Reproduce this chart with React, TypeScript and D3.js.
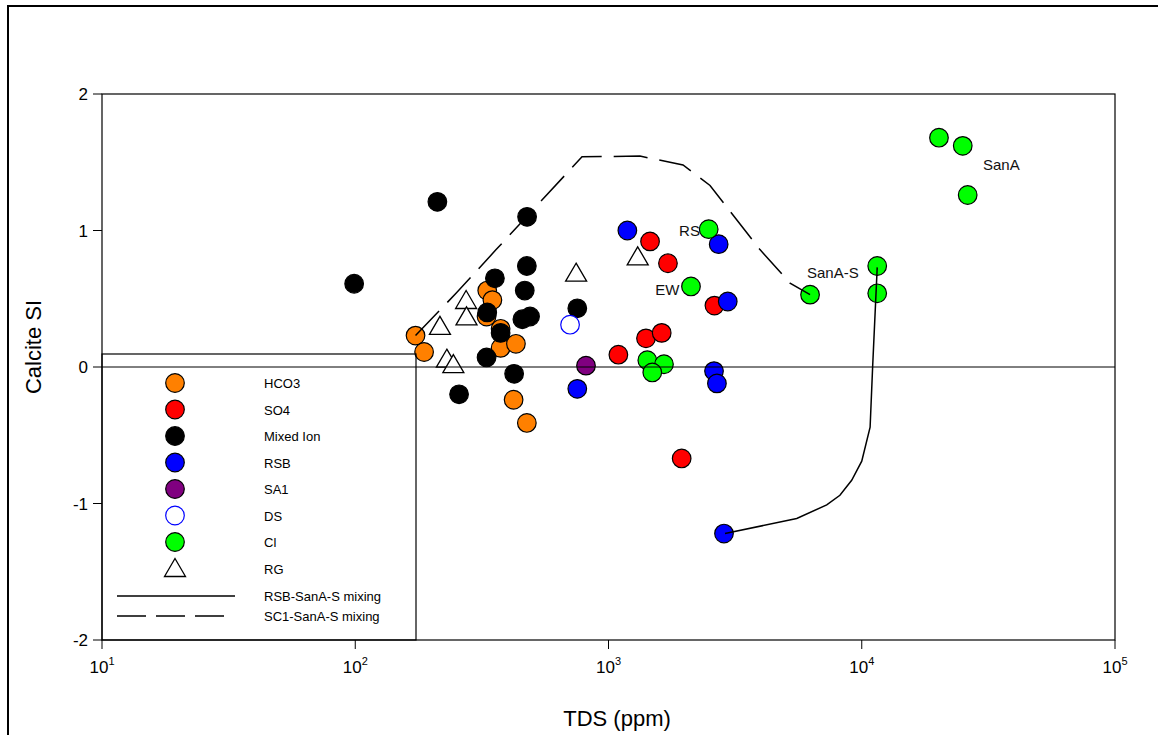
import React from "react";
import * as d3 from "d3";

// [TDS ppm, calcite SI]
const hco3 = [
  [173, 0.23], [187, 0.11], [332, 0.56], [348, 0.49], [330, 0.37], [375, 0.28],
  [375, 0.14], [431, 0.17], [422, -0.24], [476, -0.41],
];
const so4 = [
  [1459, 0.92], [1717, 0.76], [2620, 0.45], [1406, 0.21], [1622, 0.25],
  [1094, 0.09], [1945, -0.67],
];
const mixedIon = [
  [211, 1.21], [99, 0.61], [477, 1.1], [476, 0.74], [356, 0.65], [467, 0.56],
  [332, 0.4], [457, 0.35], [490, 0.37], [375, 0.25], [330, 0.07], [424, -0.05],
  [257, -0.2], [753, 0.43],
];
const rsb = [
  [1187, 1.0], [2723, 0.9], [2957, 0.48], [2610, -0.03], [2680, -0.12],
  [753, -0.16], [2858, -1.22],
];
const sa1 = [[815, 0.01]];
const ds = [[705, 0.31]];
const cl = [
  [2487, 1.01], [2117, 0.59], [1423, 0.05], [1656, 0.02], [1489, -0.04],
  [6250, 0.53], [11510, 0.74], [11510, 0.54], [20180, 1.68], [25050, 1.62], [26200, 1.26],
];
const rg = [
  [216, 0.29], [274, 0.48], [275, 0.36], [230, 0.05], [244, 0.01], [745, 0.68], [1304, 0.8],
];

// mixing curves
const rsbSanaS = [
  [2884, -1.22], [5537, -1.11], [7273, -1.01], [8200, -0.94], [9125, -0.83],
  [10000, -0.69], [10790, -0.44], [11040, 0.0], [11510, 0.73],
];
const sc1SanaS = [
  [173, 0.23], [250, 0.54], [360, 0.86], [520, 1.18], [786, 1.54], [1331, 1.545],
  [1969, 1.48], [2517, 1.33], [3963, 0.86], [5210, 0.615], [6250, 0.53],
];

const xTicks = [10, 100, 1000, 10000, 100000];
const yTicks = [-2, -1, 0, 1, 2];

const pointLabels = [
  { text: "SanA", x: 30100, y: 1.44 },
  { text: "SanA-S", x: 6080, y: 0.65 },
  { text: "RS", x: 1900, y: 0.96 },
  { text: "EW", x: 1528, y: 0.527 },
];

const series = [
  { name: "HCO3", data: hco3, fill: "#ff8000", stroke: "#000" },
  { name: "SO4", data: so4, fill: "#ff0000", stroke: "#000" },
  { name: "Mixed Ion", data: mixedIon, fill: "#000000", stroke: "#000" },
  { name: "RSB", data: rsb, fill: "#0000ff", stroke: "#000" },
  { name: "SA1", data: sa1, fill: "#800080", stroke: "#000" },
  { name: "DS", data: ds, fill: "#ffffff", stroke: "#0000ff" },
  { name: "Cl", data: cl, fill: "#00ff00", stroke: "#000" },
];

const font = "'Liberation Sans', Arial, sans-serif";

const tri = "M0,-11L10.5,7L-10.5,7Z";

export default function App() {
  const x = d3.scaleLog().domain([10, 100000]).range([102, 1115]);
  const y = d3.scaleLinear().domain([-2, 2]).range([640, 94]);
  const line = d3.line<number[]>().x(d => x(d[0])).y(d => y(d[1]));

  const legX = 102, legY = 354, legW = 314;
  const rowY = (i: number) => 383 + i * 26.5;

  return (
    <svg width={1158} height={735} style={{ position: "absolute", left: 0, top: 0 }} fontFamily={font}>
      <rect x={0} y={0} width={1158} height={735} fill="#fff" />
      <rect x={8} y={6} width={1160} height={740} fill="none" stroke="#000" strokeWidth={2} />

      {/* labels under the markers */}
      {pointLabels.map(l => (
        <text key={l.text} x={x(l.x)} y={y(l.y)} fontSize={15} fill="#111">{l.text}</text>
      ))}

      {/* markers */}
      {series.map(s => (
        <g key={s.name}>
          {s.data.map((d, i) => (
            <circle key={i} cx={x(d[0])} cy={y(d[1])} r={9.3} fill={s.fill} stroke={s.stroke} strokeWidth={1.2} />
          ))}
        </g>
      ))}
      {rg.map((d, i) => (
        <path key={i} d={tri} transform={`translate(${x(d[0])},${y(d[1])})`} fill="#fff" stroke="#000" strokeWidth={1.3} />
      ))}

      {/* mixing lines */}
      <path d={line(rsbSanaS) || ""} fill="none" stroke="#000" strokeWidth={1.5} />
      <path d={line(sc1SanaS) || ""} fill="none" stroke="#000" strokeWidth={1.5} strokeDasharray="34 12" />

      {/* zero line */}
      <line x1={x(10)} x2={x(100000)} y1={y(0)} y2={y(0)} stroke="#000" strokeWidth={1} />

      {/* frame */}
      <rect x={102} y={94} width={1115 - 102} height={640 - 94} fill="none" stroke="#000" strokeWidth={1.2} />

      {/* x axis */}
      {xTicks.map(t => (
        <g key={t}>
          <line x1={x(t)} x2={x(t)} y1={640} y2={649} stroke="#000" />
          <text x={x(t)} y={673} fontSize={17} textAnchor="middle">
            <tspan>10</tspan>
            <tspan dy={-8} fontSize={11}>{Math.round(Math.log10(t))}</tspan>
          </text>
        </g>
      ))}
      <text x={617} y={726} fontSize={22} textAnchor="middle">TDS (ppm)</text>

      {/* y axis */}
      {yTicks.map(t => (
        <g key={t}>
          <line x1={93} x2={102} y1={y(t)} y2={y(t)} stroke="#000" />
          <text x={88} y={y(t) + 6} fontSize={17} textAnchor="end">{t}</text>
        </g>
      ))}
      <text transform="translate(41,347) rotate(-90)" fontSize={22} textAnchor="middle">Calcite SI</text>

      {/* legend */}
      <rect x={legX} y={legY} width={legW} height={640 - legY} fill="none" stroke="#000" strokeWidth={1.2} />
      {series.map((s, i) => (
        <g key={s.name}>
          <circle cx={175} cy={rowY(i)} r={9.3} fill={s.fill} stroke={s.stroke} strokeWidth={1.2} />
          <text x={264} y={rowY(i) + 5} fontSize={13}>{s.name}</text>
        </g>
      ))}
      <path d={tri} transform={`translate(175,${rowY(7) + 1})`} fill="#fff" stroke="#000" strokeWidth={1.3} />
      <text x={264} y={rowY(7) + 5} fontSize={13}>RG</text>
      <line x1={117} x2={235} y1={596} y2={596} stroke="#000" strokeWidth={1.3} />
      <text x={264} y={601} fontSize={13}>RSB-SanA-S mixing</text>
      <line x1={117} x2={224} y1={616} y2={616} stroke="#000" strokeWidth={1.3} strokeDasharray="29 10" />
      <text x={264} y={621} fontSize={13}>SC1-SanA-S mixing</text>
    </svg>
  );
}
